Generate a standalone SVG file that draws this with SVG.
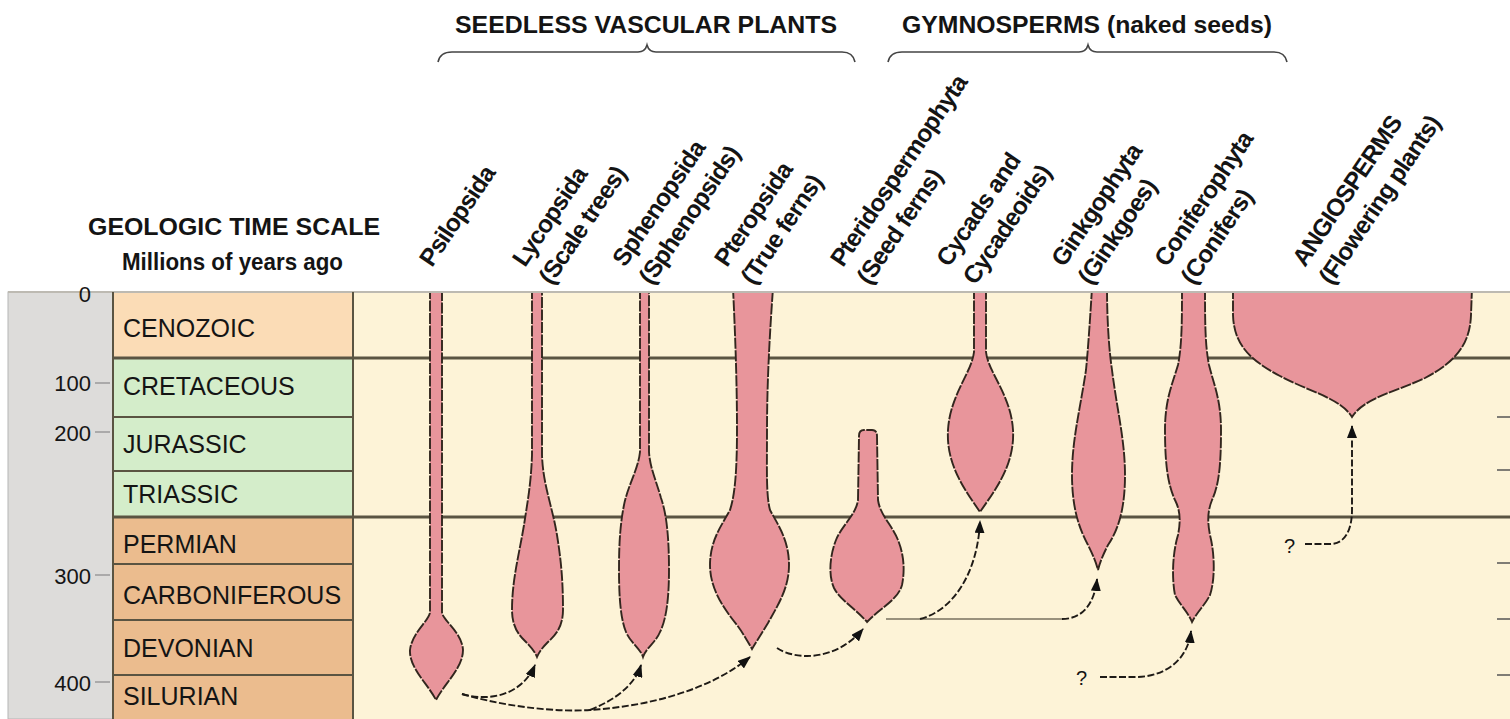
<svg xmlns="http://www.w3.org/2000/svg" width="1510" height="719" viewBox="0 0 1510 719">
<defs>
<style>
text { font-family: "Liberation Sans", Arial, sans-serif; fill: #141414; }
.hdr { font-size: 24px; font-weight: bold; }
.period { font-size: 25px; }
.num { font-size: 22px; text-anchor: end; fill: #151515; }
.lab { font-size: 24.5px; font-weight: bold; letter-spacing: -0.8px; }
.q { font-size: 20px; }
.sep { stroke: #5a5442; stroke-width: 2; }
.major { stroke: #5a5442; stroke-width: 3; }
.tick { stroke: #9a9a9a; stroke-width: 1.5; }
.rtick { stroke: #555; stroke-width: 1.5; }
.spindle { fill: #e8959b; stroke: #32261e; stroke-width: 1.9; stroke-dasharray: 11 1.5; }
.arrow { fill: none; stroke: #1e1a16; stroke-width: 1.9; stroke-dasharray: 7 2.5; }
.line { fill: none; stroke: #77705f; stroke-width: 1.5; }
.brace { fill: none; stroke: #444; stroke-width: 1.6; }
</style>
<marker id="ah" markerUnits="userSpaceOnUse" markerWidth="14" markerHeight="10" refX="12" refY="5" orient="auto">
<path d="M0,0 L13,5 L0,10 Z" fill="#111"/>
</marker>
<clipPath id="chart"><rect x="353" y="293" width="1157" height="426"/></clipPath>
</defs>

<rect x="0" y="0" width="1510" height="719" fill="#ffffff"/>

<g id="time-scale">
<rect x="8" y="292" width="105" height="427" fill="#dddcda" stroke="#b5b5b5" stroke-width="1"/>
<rect x="113" y="292" width="240" height="66" fill="#fbdcb6"/>
<rect x="113" y="358" width="240" height="159" fill="#d4edca"/>
<rect x="113" y="517" width="240" height="202" fill="#ebbc8e"/>
<rect x="353" y="292" width="1157" height="427" fill="#fdf3d7"/>
<line x1="8" y1="292" x2="1510" y2="292" stroke="#bdbab2" stroke-width="2"/>
<line x1="113" y1="292" x2="113" y2="719" class="sep"/>
<line x1="353" y1="292" x2="353" y2="719" class="sep"/>
<line x1="113" y1="417" x2="353" y2="417" class="sep"/>
<line x1="113" y1="471" x2="353" y2="471" class="sep"/>
<line x1="113" y1="564" x2="353" y2="564" class="sep"/>
<line x1="113" y1="620" x2="353" y2="620" class="sep"/>
<line x1="113" y1="675" x2="353" y2="675" class="sep"/>
<line x1="113" y1="358" x2="1510" y2="358" class="major"/>
<line x1="113" y1="517" x2="1510" y2="517" class="major"/>
<line x1="95" y1="383" x2="110" y2="383" class="tick"/>
<line x1="95" y1="432" x2="110" y2="432" class="tick"/>
<line x1="95" y1="575" x2="110" y2="575" class="tick"/>
<line x1="95" y1="682" x2="110" y2="682" class="tick"/>
<line x1="1497" y1="417" x2="1510" y2="417" class="rtick"/>
<line x1="1497" y1="470" x2="1510" y2="470" class="rtick"/>
<line x1="1497" y1="563" x2="1510" y2="563" class="rtick"/>
<line x1="1497" y1="619" x2="1510" y2="619" class="rtick"/>
<line x1="1497" y1="675" x2="1510" y2="675" class="rtick"/>
<text class="num" x="91" y="302">0</text>
<text class="num" x="91" y="391">100</text>
<text class="num" x="91" y="441">200</text>
<text class="num" x="91" y="584">300</text>
<text class="num" x="91" y="691">400</text>
<text class="period" x="123" y="337">CENOZOIC</text>
<text class="period" x="123" y="395">CRETACEOUS</text>
<text class="period" x="123" y="453">JURASSIC</text>
<text class="period" x="123" y="503">TRIASSIC</text>
<text class="period" x="123" y="553">PERMIAN</text>
<text class="period" x="123" y="604">CARBONIFEROUS</text>
<text class="period" x="123" y="657">DEVONIAN</text>
<text class="period" x="123" y="705">SILURIAN</text>
<text class="hdr" x="88" y="235" textLength="292" lengthAdjust="spacingAndGlyphs">GEOLOGIC TIME SCALE</text>
<text class="hdr" x="122" y="270" textLength="221" lengthAdjust="spacingAndGlyphs">Millions of years ago</text>
</g>

<g id="group-seedless">
<text class="hdr" x="455" y="33" textLength="382" lengthAdjust="spacingAndGlyphs">SEEDLESS VASCULAR PLANTS</text>
<path class="brace" d="M438 62 Q440 52 452 52 L638 52 Q645 52 647 45 Q649 52 656 52 L842 52 Q853 52 855 62"/>
</g>
<g id="group-gymnosperms">
<text class="hdr" x="902" y="33" textLength="370" lengthAdjust="spacingAndGlyphs">GYMNOSPERMS (naked seeds)</text>
<path class="brace" d="M888 62 Q890 52 902 52 L1079 52 Q1086 52 1088 45 Q1090 52 1097 52 L1274 52 Q1285 52 1287 62"/>
</g>

<g clip-path="url(#chart)">
<g id="psilopsida">
<path class="spindle" d="M430 288 L430 612 C430 620 412 632 410 650 C409 668 428 684 436 700 C444 684 463 668 463 650 C462 632 442 620 442 612 L442 288 Z"/>
</g>
<g id="lycopsida">
<path class="spindle" d="M532 288 L532 455 C531 485 527 505 524 525 C519 555 512 580 512 610 C512 630 522 638 527 643 C531 647 535 652 537 657 C539 652 543 647 547 643 C552 638 563 630 563 610 C563 580 561 560 557 535 C552 505 543 485 542 455 L542 288 Z"/>
</g>
<g id="sphenopsida">
<path class="spindle" d="M640 288 L640 452 C638 470 628 485 624 505 C620 525 619 545 619 570 C619 600 621 620 626 632 C630 642 640 648 643 657 C646 648 656 642 660 632 C666 620 669 600 669 570 C669 540 667 515 661 498 C656 480 650 468 649 452 L649 288 Z"/>
</g>
<g id="pteropsida">
<path class="spindle" d="M733 288 C735 330 737 380 737 430 C737 470 735 495 730 510 C722 525 710 540 710 565 C710 590 725 610 737 625 C743 633 748 642 752 649 C756 642 762 633 768 623 C778 605 789 588 789 565 C789 540 778 525 770 510 C766 495 767 470 767 430 C767 380 770 330 773 288 Z"/>
</g>
<g id="pteridospermophyta">
<path class="spindle" d="M858 500 L859 436 Q859 430 864 430 L872 430 Q877 430 877 436 L878 500 C880 515 892 525 898 540 C904 555 905 570 902 585 C898 600 880 608 867 622 C855 608 840 600 834 588 C828 575 830 555 836 540 C842 525 856 515 858 500 Z"/>
</g>
<g id="cycads">
<path class="spindle" d="M974 288 L974 352 C972 372 950 395 948 430 C946 465 965 490 980 512 C995 490 1015 465 1013 430 C1011 395 988 372 986 352 L986 288 Z"/>
</g>
<g id="ginkgophyta">
<path class="spindle" d="M1092 288 C1090 320 1088 350 1086 370 C1080 410 1072 440 1072 475 C1072 510 1080 530 1088 545 C1093 555 1096 562 1098 570 C1100 562 1103 555 1108 545 C1118 530 1125 510 1125 475 C1125 440 1117 410 1112 370 C1109 350 1107 320 1107 288 Z"/>
</g>
<g id="coniferophyta">
<path class="spindle" d="M1182 288 C1182 320 1182 345 1178 365 C1172 385 1165 400 1165 430 C1165 465 1168 485 1175 500 C1180 510 1181 520 1178 535 C1172 555 1172 580 1175 595 C1180 605 1188 612 1192 622 C1197 612 1205 605 1210 595 C1215 580 1215 555 1210 535 C1207 520 1208 510 1212 500 C1219 485 1221 465 1221 430 C1221 400 1214 385 1209 365 C1205 345 1205 320 1205 288 Z"/>
</g>
<g id="angiosperms">
<path class="spindle" d="M1233 288 L1233 315 C1234 345 1250 360 1280 376 C1310 392 1340 398 1352 417 C1364 398 1395 392 1425 378 C1455 362 1470 345 1471 315 L1472 288 Z"/>
</g>
</g>

<g id="labels">
<text class="lab" transform="translate(432,268) rotate(-56)">Psilopsida</text>
<text class="lab" transform="translate(525,268) rotate(-56)"><tspan x="0" y="0">Lycopsida</tspan><tspan x="0" y="32">(Scale trees)</tspan></text>
<text class="lab" transform="translate(625,268) rotate(-56)"><tspan x="0" y="0">Sphenopsida</tspan><tspan x="0" y="32">(Sphenopsids)</tspan></text>
<text class="lab" transform="translate(727,268) rotate(-56)"><tspan x="0" y="0">Pteropsida</tspan><tspan x="0" y="32">(True ferns)</tspan></text>
<text class="lab" transform="translate(843,268) rotate(-56)"><tspan x="0" y="0">Pteridospermophyta</tspan><tspan x="0" y="32">(Seed ferns)</tspan></text>
<text class="lab" transform="translate(949,268) rotate(-56)"><tspan x="0" y="0">Cycads and</tspan><tspan x="0" y="32">Cycadeoids)</tspan></text>
<text class="lab" transform="translate(1064,268) rotate(-56)"><tspan x="0" y="0">Ginkgophyta</tspan><tspan x="0" y="32">(Ginkgoes)</tspan></text>
<text class="lab" transform="translate(1167,268) rotate(-56)"><tspan x="0" y="0">Coniferophyta</tspan><tspan x="0" y="32">(Conifers)</tspan></text>
<text class="lab" transform="translate(1305,268) rotate(-56)"><tspan x="0" y="0">ANGIOSPERMS</tspan><tspan x="0" y="32">(Flowering plants)</tspan></text>
</g>

<g id="connectors">
<path class="arrow" d="M462 694 C490 702 522 695 535 665" marker-end="url(#ah)"/>
<path class="arrow" d="M462 694 C510 708 560 712 590 710 C650 706 710 690 750 657" marker-end="url(#ah)"/>
<path class="arrow" d="M590 710 C615 700 635 685 641 665" marker-end="url(#ah)"/>
<path class="arrow" d="M777 648 C795 660 835 662 863 629" marker-end="url(#ah)"/>
<path class="line" d="M886 619 L1062 619"/>
<path class="arrow" d="M1062 619 C1085 619 1095 600 1097 579" marker-end="url(#ah)"/>
<path class="arrow" d="M920 619 C955 610 978 570 980 521" marker-end="url(#ah)"/>
<path class="arrow" d="M1100 677 L1135 677 C1165 677 1188 660 1191 631" marker-end="url(#ah)"/>
<path class="arrow" d="M1305 544 L1330 544 C1345 544 1352 530 1352 510 L1352 426" marker-end="url(#ah)"/>
<text class="q" x="1076" y="685">?</text>
<text class="q" x="1284" y="553">?</text>
</g>
</svg>
